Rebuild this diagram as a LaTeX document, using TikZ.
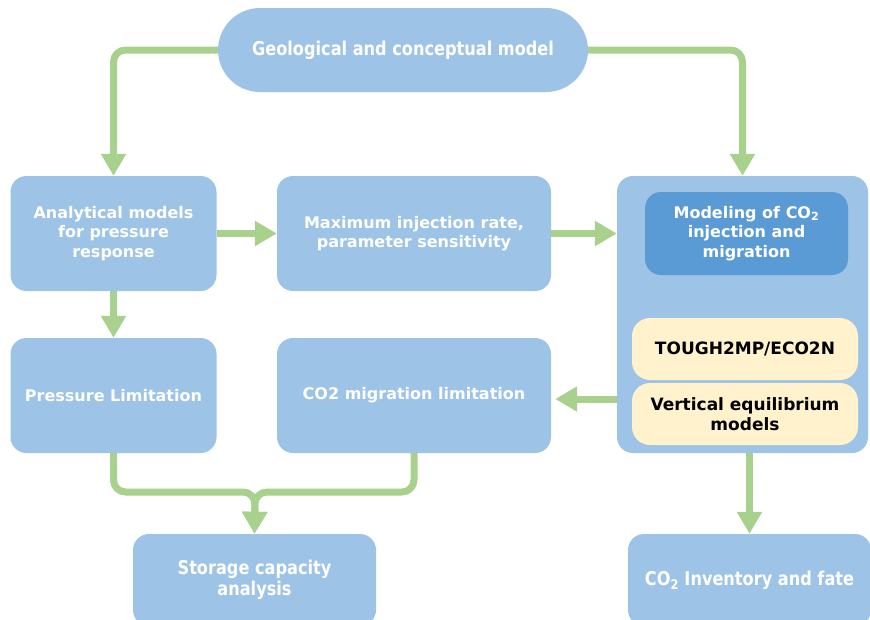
\documentclass[tikz,border=0pt]{standalone}
\usepackage{fontspec}
\setmainfont{DejaVu Sans}
\newfontfamily\narrowfont[FakeStretch=0.85]{DejaVu Sans}
\usetikzlibrary{positioning,arrows.meta}
\definecolor{boxblue}{HTML}{9DC3E6}
\definecolor{deepblue}{HTML}{5B9BD5}
\definecolor{paleyellow}{HTML}{FFF2CC}
\definecolor{flowgreen}{HTML}{A9D18E}

\begin{document}
\begin{tikzpicture}[x=1pt,y=-1pt,
    box/.style={fill=boxblue,rounded corners=16pt,align=center,text=white,inner sep=0pt,font=\fontsize{16}{19.5}\selectfont\bfseries},
    narrowbox/.style={box,font=\fontsize{19}{21}\selectfont\narrowfont\bfseries},
    toolbox/.style={fill=paleyellow,rounded corners=18pt,align=center,inner sep=0pt,minimum width=226pt,minimum height=62pt,font=\fontsize{17}{20}\selectfont\bfseries},
    flow/.style={draw=flowgreen,line width=7pt,rounded corners=12pt,-{Triangle[width=24pt,length=22pt]}}]
    \useasboundingbox (0,0) rectangle (870,619);
    \node[narrowbox,rounded corners=42pt,minimum width=370pt,minimum height=84pt] (geo) at (403,50) {Geological and conceptual model};
    \node[box,minimum width=206pt,minimum height=115pt] (ana) at (113.5,233.5) {Analytical models\\for pressure\\response};
    \node[box,minimum width=274pt,minimum height=115pt] (maxinj) at (414,233.5) {Maximum injection rate,\\parameter sensitivity};
    \node[box,minimum width=206pt,minimum height=115pt] (plim) at (113.5,395.5) {Pressure Limitation};
    \node[box,minimum width=274pt,minimum height=115pt] (mlim) at (414,395.5) {CO2 migration limitation};
    \node[box,minimum width=251pt,minimum height=277pt] (sim) at (742.5,314.5) {};
    \node[box,fill=deepblue,minimum width=203pt,minimum height=83pt] (co2mod) at (746.5,233.5) {Modeling of CO\textsubscript{2}\\injection and\\migration};
    \node[toolbox] (tough) at (745,349) {TOUGH2MP/ECO2N};
    \node[toolbox] (vem) at (745,414) {Vertical equilibrium\\models};
    \node[narrowbox,minimum width=243pt,minimum height=92pt] (cap) at (254.5,580) {Storage capacity\\analysis};
    \node[narrowbox,minimum width=243pt,minimum height=92pt] (fate) at (749.5,580) {CO\textsubscript{2} Inventory and fate};
    \coordinate (join) at (255,492);
    \draw[flow] (geo.west) -| (ana.north);
    \draw[flow] (geo.east) -| (sim.north);
    \draw[flow] (ana) -- (maxinj);
    \draw[flow] (maxinj.east) -- (maxinj.east -| sim.west);
    \draw[flow] (ana) -- (plim);
    \draw[flow,shorten >=4pt] (sim.west |- 0,399) -- (mlim.east |- 0,399);
    \draw[flow] (plim.south) |- (join) -- (cap.north);
    \draw[flow] (mlim.south) |- (join) -- (cap.north);
    \draw[flow] (fate.north |- sim.south) -- (fate.north);
\end{tikzpicture}
\end{document}
